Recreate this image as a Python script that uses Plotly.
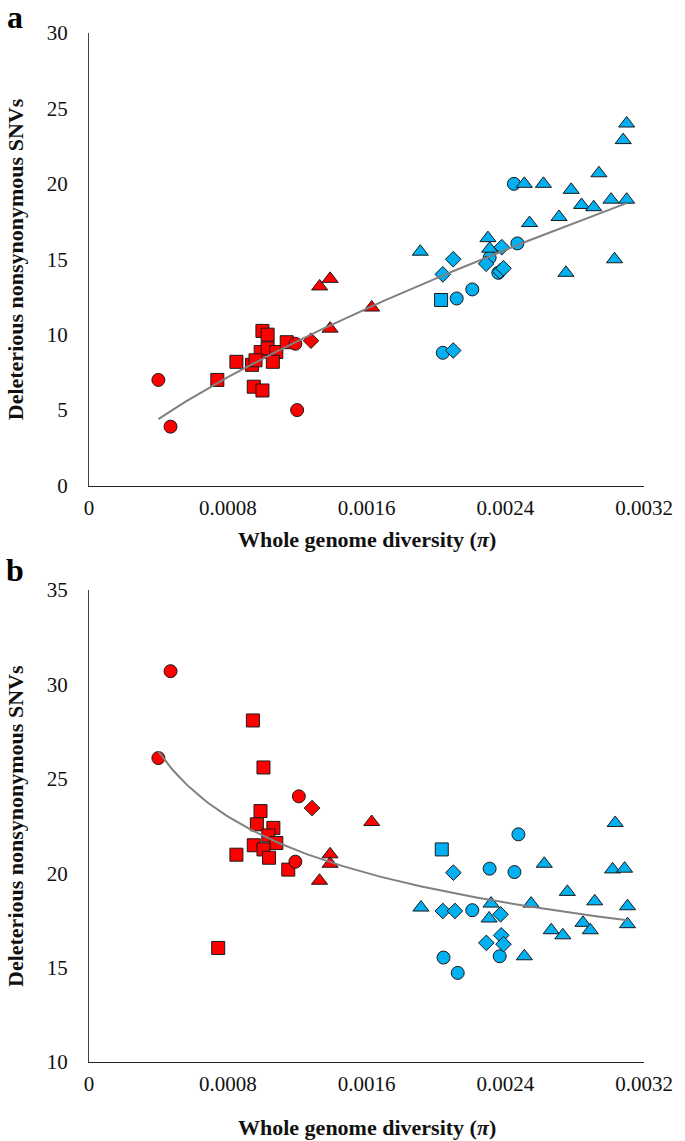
"""Deleterious nonsynonymous SNVs against whole genome diversity, two panels."""

import numpy as np
import plotly.graph_objects as go
from plotly.subplots import make_subplots

RED = "#FF0000"
BLUE = "#00B0F0"
FONT = "Liberation Serif, Times New Roman, serif"

# ---- panel a -------------------------------------------------------------
A_RED_CIRCLE_X = [0.00040, 0.00047, 0.00119, 0.00120]
A_RED_CIRCLE_Y = [7.0, 3.9, 9.4, 5.0]
A_RED_SQUARE_X = [0.00074, 0.00085, 0.00100, 0.00103, 0.00095, 0.00100, 0.00094,
                  0.00099, 0.00103, 0.00108, 0.00106, 0.00114, 0.00096]
A_RED_SQUARE_Y = [7.0, 8.2, 10.25, 10.0, 6.55, 6.3, 8.0, 8.85, 9.1, 8.85, 8.2, 9.5, 8.3]
A_RED_DIAMOND_X = [0.00128]
A_RED_DIAMOND_Y = [9.6]
A_RED_TRIANGLE_X = [0.00139, 0.00163, 0.00133, 0.00139]
A_RED_TRIANGLE_Y = [10.4, 11.8, 13.2, 13.7]

A_BLUE_TRIANGLE_X = [0.00310, 0.00308, 0.00294, 0.00251, 0.00262, 0.00278, 0.00284,
                     0.00291, 0.00301, 0.00310, 0.00271, 0.00254, 0.00191, 0.00230,
                     0.00231, 0.00275, 0.00303]
A_BLUE_TRIANGLE_Y = [24.0, 22.9, 20.7, 20.0, 20.0, 19.6, 18.6, 18.45, 18.95, 18.95,
                     17.8, 17.4, 15.5, 16.4, 15.7, 14.1, 15.0]
A_BLUE_CIRCLE_X = [0.00245, 0.00231, 0.00247, 0.00236, 0.00221, 0.00212, 0.00204]
A_BLUE_CIRCLE_Y = [20.0, 15.1, 16.05, 14.1, 13.0, 12.4, 8.8]
A_BLUE_DIAMOND_X = [0.00238, 0.00229, 0.00210, 0.00204, 0.00237, 0.00210, 0.00239]
A_BLUE_DIAMOND_Y = [15.8, 14.7, 15.0, 14.0, 14.2, 8.95, 14.4]
A_BLUE_SQUARE_X = [0.00203]
A_BLUE_SQUARE_Y = [12.3]

# ---- panel b -------------------------------------------------------------
B_RED_CIRCLE_X = [0.00047, 0.00040, 0.00121, 0.00119]
B_RED_CIRCLE_Y = [30.7, 26.1, 24.07, 20.61]
B_RED_SQUARE_X = [0.000945, 0.001006, 0.000989, 0.000968, 0.001063, 0.001034, 0.00108,
                  0.00095, 0.001006, 0.001038, 0.00085, 0.001149, 0.000745]
B_RED_SQUARE_Y = [28.09, 25.6, 23.29, 22.59, 22.4, 22.0, 21.6, 21.48, 21.26, 20.82,
                  20.98, 20.19, 16.04]
B_RED_DIAMOND_X = [0.001286]
B_RED_DIAMOND_Y = [23.45]
B_RED_TRIANGLE_X = [0.00163, 0.00139, 0.00139, 0.001329]
B_RED_TRIANGLE_Y = [22.71, 21.0, 20.5, 19.6]

B_BLUE_TRIANGLE_X = [0.003034, 0.002625, 0.003019, 0.003088, 0.002758, 0.002916,
                     0.003105, 0.001914, 0.002318, 0.002549, 0.002307, 0.002848,
                     0.003105, 0.002665, 0.002732, 0.00289, 0.00251]
B_BLUE_TRIANGLE_Y = [22.66, 20.5, 20.2, 20.24, 19.01, 18.51, 18.25, 18.18, 18.39,
                     18.39, 17.6, 17.37, 17.3, 16.98, 16.71, 16.98, 15.6]
B_BLUE_CIRCLE_X = [0.002476, 0.00231, 0.002453, 0.00221, 0.002044, 0.002368, 0.002126]
B_BLUE_CIRCLE_Y = [22.06, 20.24, 20.06, 18.04, 15.53, 15.6, 14.72]
B_BLUE_DIAMOND_X = [0.002101, 0.00204, 0.00211, 0.002373, 0.002377, 0.002291, 0.00239]
B_BLUE_DIAMOND_Y = [20.03, 18.0, 18.0, 17.82, 16.71, 16.31, 16.24]
B_BLUE_SQUARE_X = [0.002034]
B_BLUE_SQUARE_Y = [21.26]

X_TICKS = [0, 0.0008, 0.0016, 0.0024, 0.0032]
X_TICK_TEXT = ["0", "0.0008", "0.0016", "0.0024", "0.0032"]
A_Y_TICKS = [0, 5, 10, 15, 20, 25, 30]
B_Y_TICKS = [10, 15, 20, 25, 30, 35]

SYMBOLS = {"circle": ("circle", 13), "square": ("square", 13),
           "diamond": ("diamond", 12), "triangle": ("triangle-up", 14)}

PANEL_A = [
    (A_RED_SQUARE_X, A_RED_SQUARE_Y, RED, "square"),
    (A_RED_CIRCLE_X, A_RED_CIRCLE_Y, RED, "circle"),
    (A_RED_DIAMOND_X, A_RED_DIAMOND_Y, RED, "diamond"),
    (A_RED_TRIANGLE_X, A_RED_TRIANGLE_Y, RED, "triangle"),
    (A_BLUE_SQUARE_X, A_BLUE_SQUARE_Y, BLUE, "square"),
    (A_BLUE_CIRCLE_X, A_BLUE_CIRCLE_Y, BLUE, "circle"),
    (A_BLUE_DIAMOND_X, A_BLUE_DIAMOND_Y, BLUE, "diamond"),
    (A_BLUE_TRIANGLE_X, A_BLUE_TRIANGLE_Y, BLUE, "triangle"),
]
PANEL_B = [
    (B_RED_SQUARE_X, B_RED_SQUARE_Y, RED, "square"),
    (B_RED_CIRCLE_X, B_RED_CIRCLE_Y, RED, "circle"),
    (B_RED_DIAMOND_X, B_RED_DIAMOND_Y, RED, "diamond"),
    (B_RED_TRIANGLE_X, B_RED_TRIANGLE_Y, RED, "triangle"),
    (B_BLUE_SQUARE_X, B_BLUE_SQUARE_Y, BLUE, "square"),
    (B_BLUE_CIRCLE_X, B_BLUE_CIRCLE_Y, BLUE, "circle"),
    (B_BLUE_DIAMOND_X, B_BLUE_DIAMOND_Y, BLUE, "diamond"),
    (B_BLUE_TRIANGLE_X, B_BLUE_TRIANGLE_Y, BLUE, "triangle"),
]

# plot-area edges in pixels (figure is 685 x 1141)
TOP, BOTTOM = 33, 79
A_BOTTOM_PX, B_TOP_PX, B_BOTTOM_PX = 485.5, 590, 1062
PLOT_H = 1141 - TOP - BOTTOM
A_DOMAIN = [(B_BOTTOM_PX - A_BOTTOM_PX) / PLOT_H, 1.0]
B_DOMAIN = [0.0, (B_BOTTOM_PX - B_TOP_PX) / PLOT_H]


def power_trend(groups):
    """Excel-style power trendline: least squares on log-log."""
    xs = np.concatenate([np.asarray(g[0], float) for g in groups])
    ys = np.concatenate([np.asarray(g[1], float) for g in groups])
    b, ln_a = np.polyfit(np.log(xs), np.log(ys), 1)
    xx = np.linspace(xs.min(), xs.max(), 120)
    return xx, np.exp(ln_a) * xx ** b


fig = make_subplots(rows=2, cols=1)

for row, groups in ((1, PANEL_A), (2, PANEL_B)):
    for xs, ys, color, shape in groups:
        symbol, size = SYMBOLS[shape]
        fig.add_trace(
            go.Scatter(
                x=xs, y=ys, mode="markers", showlegend=False,
                marker=dict(symbol=symbol, size=size, color=color,
                            line=dict(color="#1a1a1a", width=1)),
            ),
            row=row, col=1,
        )
    tx, ty = power_trend(groups)
    fig.add_trace(
        go.Scatter(x=tx, y=ty, mode="lines", showlegend=False,
                   line=dict(color="#808080", width=2)),
        row=row, col=1,
    )

axis_common = dict(showgrid=False, zeroline=False, showline=True, linewidth=1.3,
                   ticks="", tickfont=dict(family=FONT, size=21, color="#111"))
fig.update_xaxes(range=[0, 0.0032], tickvals=X_TICKS, ticktext=X_TICK_TEXT,
                 linecolor="#222", ticklabelstandoff=3, **axis_common)
fig.update_yaxes(linecolor="#444", ticklabelstandoff=16, **axis_common)
fig.update_yaxes(range=[0, 30], tickvals=A_Y_TICKS, row=1, col=1)
fig.update_yaxes(range=[10, 35], tickvals=B_Y_TICKS, row=2, col=1)

fig.update_layout(
    width=685, height=1141,
    margin=dict(l=89, r=32, t=TOP, b=BOTTOM),
    paper_bgcolor="white", plot_bgcolor="white",
    font=dict(family=FONT, color="#111"),
    xaxis=dict(domain=[0, 1]), xaxis2=dict(domain=[0, 1]),
    yaxis=dict(domain=A_DOMAIN), yaxis2=dict(domain=B_DOMAIN),
)

title_font = dict(family=FONT, size=22, color="#111")
x_title = "<b>Whole genome diversity (<i>π</i>)</b>"
y_title = "<b>Deleterious nonsynonymous SNVs</b>"
notes = [
    dict(text=x_title, x=0.5, y=A_DOMAIN[0], yshift=-54, xanchor="center", yanchor="middle"),
    dict(text=x_title, x=0.5, y=0.0, yshift=-65, xanchor="center", yanchor="middle"),
    dict(text=y_title, x=0, xshift=-74, y=sum(A_DOMAIN) / 2, textangle=-90,
         xanchor="center", yanchor="middle"),
    dict(text=y_title, x=0, xshift=-74, y=sum(B_DOMAIN) / 2, textangle=-90,
         xanchor="center", yanchor="middle"),
]
for n in notes:
    fig.add_annotation(xref="paper", yref="paper", showarrow=False,
                       font=title_font, **n)

for letter, y, shift in (("a", 1.0, 16), ("b", B_DOMAIN[1], 20)):
    fig.add_annotation(text=f"<b>{letter}</b>", xref="paper", yref="paper",
                       x=0, xshift=-74, y=y, yshift=shift, showarrow=False,
                       xanchor="center", yanchor="middle",
                       font=dict(family=FONT, size=32, color="#000"))

fig.write_html("out.html", config={"displayModeBar": False},
               post_script="document.body.style.margin='0px';")
